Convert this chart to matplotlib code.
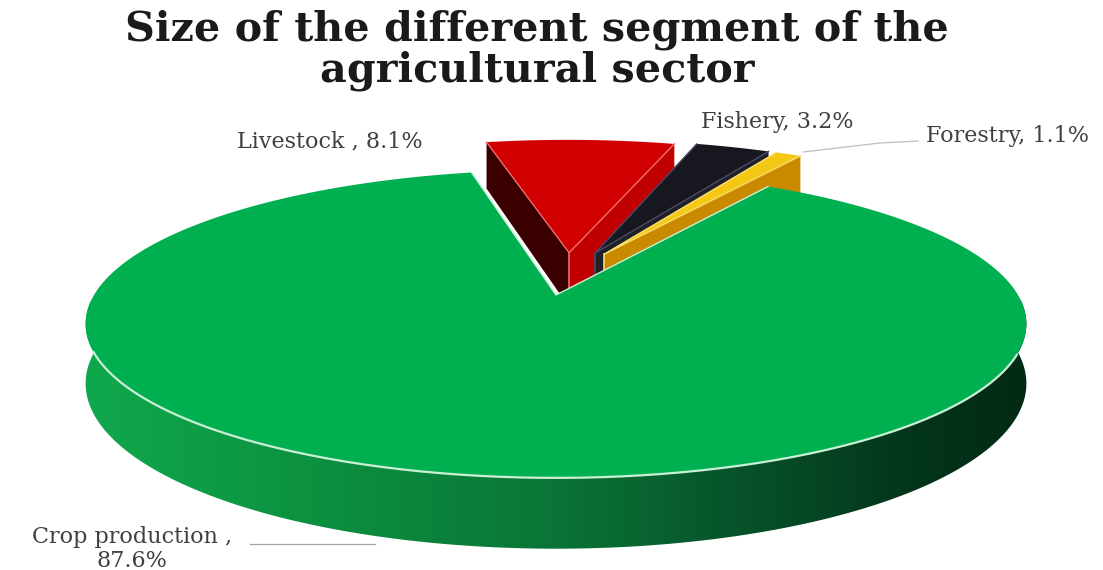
import numpy as np
import matplotlib
matplotlib.use('Agg')
import matplotlib.pyplot as plt
from matplotlib.colors import LinearSegmentedColormap
from matplotlib.patches import Polygon

title = 'Size of the different segment of the\nagricultural sector'
segments = ['Crop production', 'Forestry', 'Fishery', 'Livestock']
shares = [87.6, 1.1, 3.2, 8.1]
top_colors = ['#00b050', '#f5c816', '#17171f', '#d00000']
edge_colors = ['#c9f0d4', '#f9df70', '#4a4a68', '#f06a6a']
near_wall = ['#0a7a38', '#c98a00', '#202028', '#3a0000']
far_wall = ['#0a7a38', '#c98a00', '#202028', '#c00000']
# how far each slice is pulled out of the pie, in unit circle coords
pull_x = [0.0, 0.11, 0.09, 0.03]
pull_y = [0.0, 0.29, 0.30, 0.30]

start_angle = 102.5
cx, cy = 556, 295
rx, ry = 462, 148.5
tilt = 0.188
depth = 57.5


def project(x, y, lower=0.0):
    s = 1 / (1 + tilt * y)
    return cx + rx * x * s, cy - ry * y * s + lower * depth * s


def rim(a0, a1, dx=0.0, dy=0.0, lower=0.0, n=200):
    t = np.radians(np.linspace(a0, a1, n))
    return np.column_stack(project(np.cos(t) + dx, np.sin(t) + dy, lower))


fig = plt.figure(figsize=(11.03, 5.7), dpi=100)
ax = fig.add_axes([0, 0, 1, 1])

# side wall of the big slice, shaded from left to right
wall_top = rim(172, 368)
wall_low = rim(172, 368, lower=1.0)
wall_shape = Polygon(np.vstack([wall_top, wall_low[::-1]]), transform=ax.transData)
wall_cmap = LinearSegmentedColormap.from_list('wall', [
    (0.0, '#10a84c'), (0.25, '#0c9040'), (0.5, '#0a7436'),
    (0.72, '#064e28'), (0.88, '#03351b'), (1.0, '#022a15')])
im = ax.imshow(np.linspace(0, 1, 512)[None, :], cmap=wall_cmap, aspect='auto',
               extent=[84, 1027, 570, 300], zorder=1)
im.set_clip_path(wall_shape)

# angles come from the shares, going counter clockwise
ends = start_angle + np.cumsum(shares) * 3.6
starts = np.r_[start_angle, ends[:-1]]

# small slices first so the big one covers their lower parts
for i in [3, 2, 1, 0]:
    a0, a1 = starts[i], ends[i]
    dx, dy = pull_x[i], pull_y[i]
    apex = np.array(project(dx, dy))
    apex_low = np.array(project(dx, dy, 1.0))
    outer = rim(a0, a1, dx, dy)
    z = 3 + (3 - i) if i > 0 else 10
    if i > 0:
        ax.add_patch(Polygon([apex, outer[-1], rim(a1, a1, dx, dy, 1.0, 1)[0], apex_low],
                             fc=near_wall[i], ec='none', zorder=z))
        ax.add_patch(Polygon([apex, outer[0], rim(a0, a0, dx, dy, 1.0, 1)[0], apex_low],
                             fc=far_wall[i], ec='none', zorder=z))
        ax.plot([apex[0], apex_low[0]], [apex[1], apex_low[1]], color=edge_colors[i],
                lw=1.2, zorder=z + 0.2)
    ax.add_patch(Polygon(np.vstack([apex, outer]), fc=top_colors[i], ec='none', zorder=z + 0.1))
    ax.plot([outer[-1, 0], apex[0], outer[0, 0]], [outer[-1, 1], apex[1], outer[0, 1]],
            color=edge_colors[i], lw=1.0, zorder=z + 0.2)

# light rim along the front of the pie
front = rim(201, 338)
ax.plot(front[:, 0], front[:, 1], color=edge_colors[0], lw=1.6, zorder=11)

ax.plot([250, 375], [544, 544], color='#a6a6a6', lw=0.9, zorder=2)
ax.plot([803, 880, 918], [152, 143, 141], color='#bdbdbd', lw=0.9, zorder=2)

fig.text(0.487, 0.983, title, ha='center', va='top', fontsize=29.7, fontweight='bold',
         family='DejaVu Serif', color='#1a1a1a', linespacing=1.0)

label_font = dict(family='DejaVu Serif', color='#404040', fontsize=16, va='center', ha='center')
ax.text(132, 549, f'{segments[0]} ,\n{shares[0]}%', linespacing=1.1, **label_font)
ax.text(330, 141, f'{segments[3]} , {shares[3]}%', **label_font)
ax.text(777, 122, f'{segments[2]}, {shares[2]}%', **label_font)
ax.text(1008, 136, f'{segments[1]}, {shares[1]}%', **label_font)

ax.set_xlim(0, 1103)
ax.set_ylim(570, 0)
ax.axis('off')
fig.savefig('out.png', dpi=100)
